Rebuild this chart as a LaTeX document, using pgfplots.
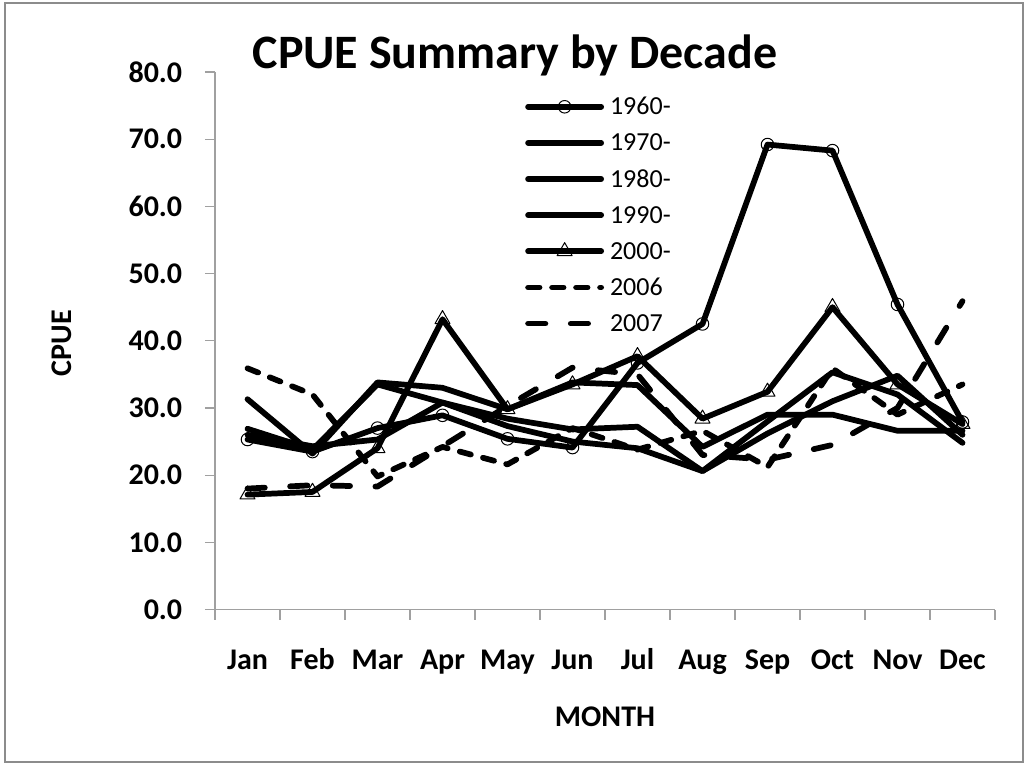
\documentclass[border=0pt]{standalone}
\usepackage{fontspec}
\setmainfont{Carlito}
\usepackage{pgfplots}
\pgfplotsset{compat=1.18}
\definecolor{axisgray}{RGB}{160,160,160}
\definecolor{bordergray}{RGB}{140,140,140}
\begin{document}
\begin{tikzpicture}
\useasboundingbox (-161.25pt,-116.625pt) rectangle (609pt,457.125pt);
\draw[bordergray, line width=1.1pt] (-157.5pt,-114.375pt) rectangle (606pt,454.875pt);
\begin{axis}[
  at={(0pt,0pt)}, anchor=south west,
  scale only axis, width=585pt, height=403.125pt,
  xmin=-0.5, xmax=11.5, ymin=0, ymax=80,
  axis x line*=bottom, axis y line*=left,
  axis line style={draw=axisgray, line width=0.9pt, -},
  xtick={0,...,11},
  xticklabels={Jan,Feb,Mar,Apr,May,Jun,Jul,Aug,Sep,Oct,Nov,Dec},
  minor xtick={-0.5,0.5,...,11.5},
  ytick={0,10,...,80},
  minor ytick={0,10,...,80},
  major tick length=0pt, minor tick length=7.5pt,
  tick align=outside,
  tick style={draw=axisgray, line width=0.9pt},
  /pgf/number format/assume math mode=true,
  y tick label style={/pgf/number format/fixed, /pgf/number format/fixed zerofill, /pgf/number format/precision=1,
     font=\fontsize{22.5}{27}\selectfont\bfseries, anchor=east, inner sep=0pt, xshift=-24.4pt},
  x tick label style={font=\fontsize{22.5}{27}\selectfont\bfseries, anchor=base, inner sep=0pt, yshift=-45pt},
  every axis plot/.append style={black, line width=4.3pt, line cap=round, line join=round},
  legend cell align=left,
  legend image code/.code={\draw[mark repeat=2,mark phase=2,#1] plot coordinates {(0pt,0pt) (27.4pt,0pt) (54.8pt,0pt)};},
  legend style={at={(axis description cs:0.3974,0.9606)}, anchor=north west, draw=none, fill=none, inner sep=0pt,
     row sep=7.1pt, font=\fontsize{19.5}{20}\selectfont,
     nodes={inner sep=0pt, text height=16pt, text depth=4pt},
     /tikz/every odd column/.append style={column sep=4.5pt}},
  clip=false,
]
\addplot[black, solid, mark=o, mark size=4.7pt, mark options={solid, line width=0.75pt}] coordinates {
 (0,25.3)(1,23.5)(2,27.0)(3,28.9)(4,25.4)(5,24.1)(6,36.7)(7,42.5)(8,69.2)(9,68.3)(10,45.4)(11,27.9)};
\addlegendentry{1960-}
\addplot[black, solid] coordinates {
 (0,31.3)(1,23.2)(2,33.8)(3,33.0)(4,29.8)(5,33.8)(6,33.4)(7,24.2)(8,29.0)(9,29.0)(10,26.6)(11,26.6)};
\addlegendentry{1970-}
\addplot[black, solid] coordinates {
 (0,26.9)(1,23.8)(2,33.5)(3,30.8)(4,28.4)(5,26.8)(6,27.2)(7,20.6)(8,28.0)(9,35.3)(10,32.0)(11,24.8)};
\addlegendentry{1980-}
\addplot[black, solid] coordinates {
 (0,26.0)(1,24.3)(2,25.3)(3,30.8)(4,27.3)(5,25.0)(6,24.0)(7,20.6)(8,26.2)(9,31.0)(10,34.8)(11,26.0)};
\addlegendentry{1990-}
\addplot[black, solid, mark=triangle, mark size=6.5pt, mark options={solid, line width=0.75pt}] coordinates {
 (0,17.1)(1,17.5)(2,24.0)(3,43.2)(4,29.8)(5,33.5)(6,37.7)(7,28.4)(8,32.4)(9,45.0)(10,33.5)(11,27.6)};
\addlegendentry{2000-}
\addplot[black, dash pattern=on 8.6pt off 9.4pt] coordinates {
 (0,35.9)(1,32.0)(2,19.8)(3,24.2)(4,21.6)(5,27.0)(6,23.8)(7,26.6)(8,21.2)(9,35.9)(10,29.0)(11,33.5)};
\addlegendentry{2006}
\addplot[black, dash pattern=on 13pt off 19pt] coordinates {
 (0,18.0)(1,18.5)(2,18.3)(3,24.3)(4,30.3)(5,36.0)(6,35.0)(7,23.0)(8,22.3)(9,24.5)(10,30.0)(11,45.9)};
\addlegendentry{2007}
\end{axis}
\node[anchor=base] at (225pt,405.5pt) {\fontsize{36}{40}\selectfont\bfseries CPUE Summary by Decade};
\node[rotate=90] at (-114.75pt,199.9pt) {\fontsize{22.5}{27}\selectfont\bfseries CPUE};
\node at (292.5pt,-80.6pt) {\fontsize{22.5}{27}\selectfont\bfseries MONTH};
\end{tikzpicture}
\end{document}
